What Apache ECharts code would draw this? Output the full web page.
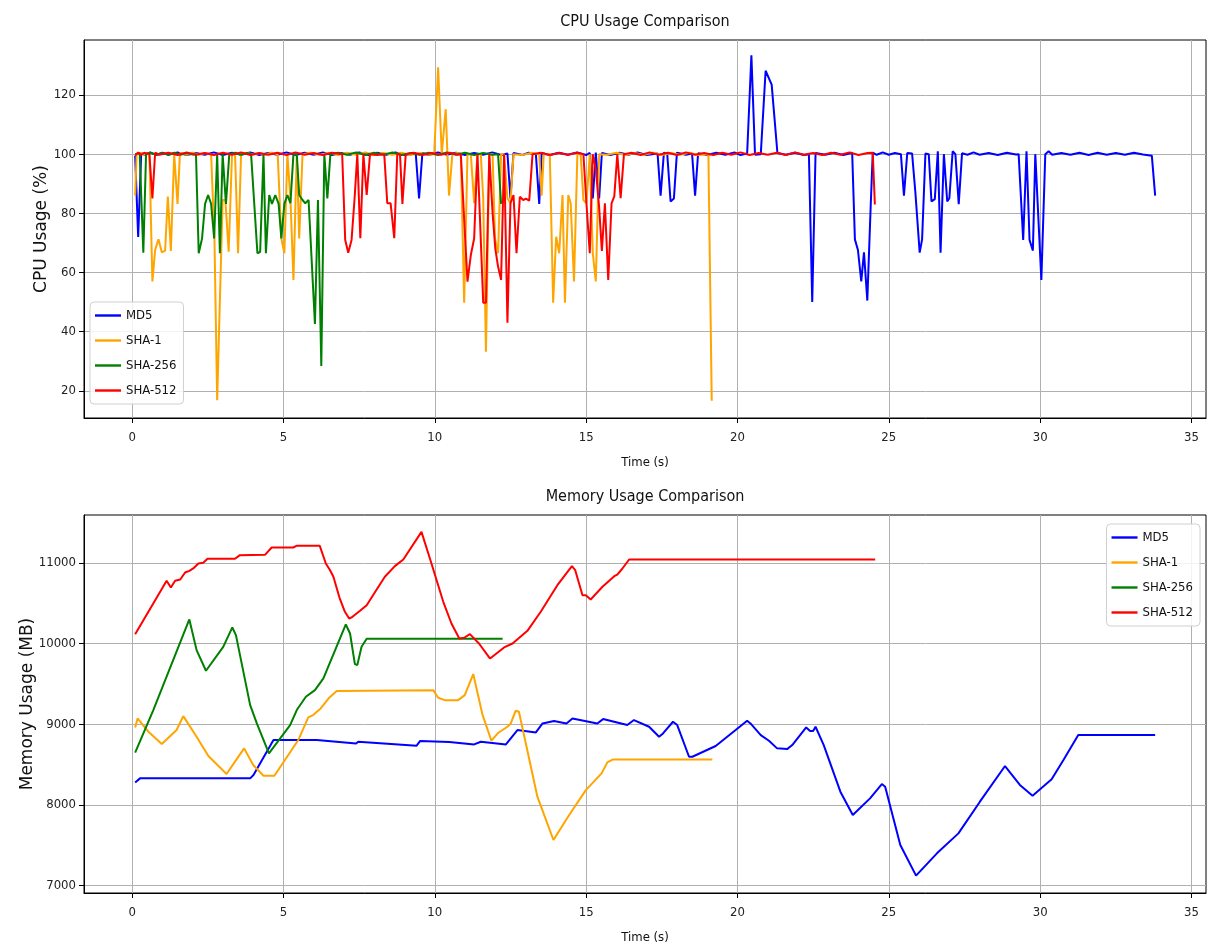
<!DOCTYPE html>
<html>
<head>
<meta charset="utf-8">
<script src="https://cdn.jsdelivr.net/npm/echarts@6/dist/echarts.min.js"></script>
<style>
html,body{margin:0;padding:0;background:#fff;}
#c{width:1208px;height:945px;}
</style>
</head>
<body>
<div id="c"></div>
<script>
const names = ['MD5','SHA-1','SHA-256','SHA-512'];
const colors = ['#0000ff','#ffa500','#008000','#ff0000'];
const xTicks = [0,5,10,15,20,25,30,35];
const cpuTicks = [20,40,60,80,100,120];
const memTicks = [7000,8000,9000,10000,11000];

const md5Cpu = [[0.1,99.5],[0.2,72],[0.3,100.4],[0.4,99.8],[0.6,100.6],[0.8,99.7],[1.0,100.5],[1.2,99.8],[1.5,100.6],[1.8,99.7],[2.1,100.4],[2.4,99.8],[2.7,100.6],[3.0,99.7],[3.3,100.5],[3.6,99.8],[3.9,100.6],[4.2,99.7],[4.5,100.4],[4.8,99.8],[5.1,100.6],[5.4,99.7],[5.7,100.5],[6.0,99.8],[6.3,100.6],[6.6,99.7],[6.9,100.4],[7.2,99.8],[7.5,100.6],[7.8,99.7],[8.1,100.5],[8.4,99.8],[8.7,100.6],[9.0,99.7],[9.37,100.3],[9.48,85],[9.59,100.4],[9.8,99.7],[10.1,100.6],[10.4,99.8],[10.7,100.5],[11.0,99.7],[11.3,100.4],[11.6,99.8],[11.9,100.6],[12.2,99.7],[12.4,100.2],[12.5,85],[12.6,100.4],[12.9,99.7],[13.1,100.5],[13.34,100],[13.45,83.2],[13.53,100.4],[13.8,99.7],[14.1,100.5],[14.4,99.8],[14.7,100.6],[15.0,99.7],[15.12,100.4],[15.22,85],[15.32,100.5],[15.43,85],[15.52,100.4],[15.8,99.7],[16.1,100.5],[16.4,99.8],[16.7,100.6],[17.0,99.7],[17.36,100.2],[17.46,86],[17.57,100.5],[17.68,100],[17.79,84],[17.9,85],[18.0,100.5],[18.3,99.8],[18.5,100.2],[18.6,86],[18.7,100.3],[19.0,99.7],[19.3,100.5],[19.6,99.8],[19.9,100.6],[20.1,99.7],[20.32,100.2],[20.46,133.4],[20.58,99.8],[20.77,100],[20.93,128.2],[21.13,123.5],[21.32,100.4],[21.6,99.8],[21.9,100.5],[22.2,99.7],[22.36,100],[22.47,50],[22.58,100.4],[22.9,99.8],[23.2,100.5],[23.5,99.7],[23.79,100.5],[23.88,71.2],[23.98,67.6],[24.09,57],[24.18,66.8],[24.29,50.5],[24.4,82],[24.47,100.5],[24.6,99.8],[24.8,100.6],[25.0,99.8],[25.2,100.4],[25.4,100],[25.5,86],[25.61,100.4],[25.77,100.2],[25.88,86.8],[26.02,66.7],[26.1,71.2],[26.21,100.2],[26.32,100],[26.41,84],[26.52,84.8],[26.62,101],[26.71,66.7],[26.82,100],[26.93,84],[27.0,85.1],[27.11,101],[27.2,100],[27.31,83.1],[27.42,100.3],[27.6,99.8],[27.8,100.6],[28.0,99.8],[28.3,100.4],[28.6,99.7],[28.9,100.5],[29.2,99.9],[29.29,100],[29.44,71],[29.55,101],[29.65,71],[29.76,67.4],[29.84,100],[30.04,57.5],[30.17,100],[30.28,101],[30.4,99.8],[30.7,100.4],[31.0,99.8],[31.3,100.5],[31.6,99.7],[31.9,100.5],[32.2,99.8],[32.5,100.4],[32.8,99.8],[33.1,100.5],[33.4,99.9],[33.69,99.5],[33.8,86]];

const sha1Cpu = [[0.1,86],[0.15,100],[0.3,100.4],[0.45,99.8],[0.57,100.3],[0.67,57],[0.76,67.6],[0.87,71.2],[0.98,66.8],[1.09,67.4],[1.18,85.7],[1.28,67.3],[1.39,100],[1.5,83.2],[1.58,100.4],[1.8,99.8],[2.0,100.5],[2.2,99.8],[2.4,100.4],[2.61,100],[2.72,71.5],[2.81,16.8],[2.99,84.5],[3.08,84.5],[3.19,67],[3.3,100],[3.4,100.3],[3.5,66.5],[3.6,100],[3.8,100.5],[4.0,99.8],[4.2,100.4],[4.4,99.8],[4.6,100.5],[4.81,100],[4.93,71.5],[5.03,66.5],[5.13,100],[5.23,85],[5.33,57.5],[5.44,100],[5.52,71.5],[5.63,100],[5.9,100.5],[6.2,99.8],[6.5,100.4],[6.8,99.7],[7.1,100.5],[7.4,99.8],[7.7,100.6],[8.0,99.7],[8.3,100.4],[8.6,99.8],[8.9,100.5],[9.2,99.7],[9.5,100.4],[9.8,99.8],[9.98,100],[10.11,129.4],[10.23,100],[10.36,115.2],[10.47,86],[10.58,100],[10.75,100.4],[10.86,100],[10.97,49.8],[11.08,100],[11.19,100],[11.3,83.4],[11.41,100],[11.52,100],[11.6,85],[11.69,33.2],[11.8,100],[11.91,100],[11.99,71.5],[12.09,66.5],[12.19,100],[12.29,100],[12.4,85],[12.5,83.4],[12.6,100],[12.9,99.7],[13.2,100.5],[13.45,100],[13.53,86],[13.6,100],[13.8,100],[13.91,49.8],[14.01,72.1],[14.11,66.5],[14.22,86.2],[14.3,49.8],[14.41,86.2],[14.49,83.4],[14.6,57],[14.71,100],[14.82,100],[14.91,84.5],[15.01,83.4],[15.12,100],[15.22,66.5],[15.32,57],[15.43,100],[15.7,99.8],[16.0,100.5],[16.3,99.7],[16.6,100.4],[16.9,99.8],[17.2,100.5],[17.5,99.7],[17.8,100.4],[18.1,99.8],[18.4,100.5],[18.7,99.7],[19.04,100],[19.15,16.6]];

const sha256Cpu = [[0.1,100],[0.25,100.4],[0.37,66.7],[0.46,100],[0.6,100.5],[0.8,99.8],[1.0,100.4],[1.2,99.8],[1.4,100.5],[1.6,99.8],[1.8,100.4],[2.0,99.9],[2.11,100],[2.2,66.5],[2.31,71.5],[2.41,83.2],[2.51,86.2],[2.61,83.2],[2.71,71.5],[2.81,100],[2.9,66.5],[2.99,100],[3.1,83.2],[3.21,100],[3.4,100.5],[3.6,99.8],[3.8,100.4],[3.93,100],[4.14,66.5],[4.23,67],[4.34,100],[4.42,66.5],[4.53,86.2],[4.62,83.2],[4.73,86.2],[4.84,83.2],[4.93,71.5],[5.03,83.2],[5.13,86.2],[5.23,83.4],[5.33,100],[5.44,100],[5.52,86.2],[5.63,84.5],[5.72,83.4],[5.83,84.5],[6.04,42.6],[6.14,84.5],[6.25,28.4],[6.35,100],[6.45,85],[6.55,100],[6.8,100.5],[7.1,99.8],[7.4,100.6],[7.7,99.7],[8.0,100.5],[8.3,99.8],[8.6,100.6],[8.9,99.7],[9.2,100.4],[9.5,99.8],[9.8,100.5],[10.1,99.7],[10.4,100.6],[10.7,99.8],[11.0,100.5],[11.3,99.7],[11.6,100.4],[11.9,99.8],[12.09,100],[12.19,83.2]];

const sha512Cpu = [[0.1,99.5],[0.2,100.6],[0.3,99.7],[0.4,100.5],[0.57,100],[0.67,85],[0.76,100.5],[0.9,99.8],[1.2,100.5],[1.5,99.7],[1.8,100.6],[2.1,99.8],[2.4,100.4],[2.7,99.7],[3.0,100.5],[3.3,99.8],[3.6,100.6],[3.9,99.7],[4.2,100.4],[4.5,99.8],[4.8,100.5],[5.1,99.7],[5.4,100.6],[5.7,99.8],[6.0,100.4],[6.3,99.7],[6.6,100.5],[6.94,100],[7.04,71],[7.14,66.7],[7.25,71],[7.35,85],[7.44,100],[7.54,71.6],[7.64,100],[7.75,86.2],[7.86,100],[8.1,99.7],[8.33,100],[8.43,83.4],[8.54,83.4],[8.66,71.6],[8.76,100],[8.85,100],[8.93,83.2],[9.04,100],[9.3,100.5],[9.6,99.7],[9.9,100.4],[10.2,99.8],[10.5,100.5],[10.75,99.8],[10.86,100],[10.97,78],[11.08,56.9],[11.19,65.9],[11.3,71.5],[11.41,100],[11.6,49.8],[11.69,49.8],[11.8,100],[11.91,80],[12.0,68],[12.09,62],[12.19,57.5],[12.29,100],[12.4,43],[12.5,83.4],[12.6,86.2],[12.7,66.5],[12.81,85.6],[12.92,84.5],[13.01,85],[13.12,84.3],[13.23,100],[13.5,100.5],[13.8,99.7],[14.1,100.4],[14.4,99.8],[14.7,100.5],[14.91,100],[15.01,83.4],[15.12,66.5],[15.22,100],[15.32,95],[15.43,82],[15.52,67.3],[15.62,83.4],[15.73,57.5],[15.84,83.4],[15.93,85.7],[16.03,100],[16.14,85.1],[16.25,100],[16.5,100.5],[16.8,99.7],[17.1,100.6],[17.4,99.8],[17.7,100.5],[18.0,99.7],[18.3,100.6],[18.6,99.8],[18.9,100.4],[19.2,99.7],[19.5,100.5],[19.8,99.8],[20.1,100.6],[20.4,99.7],[20.7,100.4],[21.0,99.8],[21.3,100.5],[21.6,99.7],[21.9,100.6],[22.2,99.8],[22.5,100.4],[22.8,99.7],[23.1,100.5],[23.4,99.8],[23.7,100.6],[24.0,99.7],[24.3,100.4],[24.47,100.5],[24.54,83]];

const md5Mem = [[0.1,8278],[0.26,8328],[3.9,8328],[4.01,8369],[4.67,8803],[6.1,8803],[7.4,8761],[7.47,8782],[9.4,8733],[9.51,8790],[10.48,8780],[11.3,8749],[11.52,8782],[12.35,8749],[12.73,8927],[13.34,8898],[13.56,9009],[13.94,9038],[14.35,9009],[14.55,9071],[15.37,9009],[15.56,9063],[16.36,8989],[16.58,9051],[17.08,8968],[17.41,8844],[17.54,8885],[17.87,9030],[18.01,8989],[18.4,8596],[18.51,8596],[19.28,8729],[19.94,8927],[20.32,9042],[20.43,9009],[20.77,8865],[21.04,8795],[21.31,8700],[21.64,8691],[21.81,8741],[22.27,8960],[22.4,8915],[22.5,8915],[22.58,8968],[22.85,8741],[23.4,8163],[23.81,7874],[24.38,8080],[24.77,8258],[24.88,8225],[25.38,7502],[25.9,7122],[26.59,7399],[27.3,7646],[28.01,8039],[28.84,8481],[29.33,8246],[29.75,8113],[30.38,8316],[30.77,8555],[31.26,8865],[33.8,8865]];

const sha1Mem = [[0.1,8960],[0.18,9071],[0.54,8906],[0.98,8753],[1.47,8927],[1.69,9100],[2.13,8844],[2.52,8605],[3.12,8382],[3.45,8564],[3.7,8700],[4.0,8493],[4.34,8361],[4.7,8361],[5.49,8803],[5.82,9084],[5.98,9113],[6.23,9195],[6.52,9331],[6.76,9410],[9.95,9422],[10.11,9327],[10.33,9298],[10.77,9298],[10.99,9360],[11.27,9621],[11.57,9125],[11.87,8795],[12.1,8894],[12.4,8968],[12.51,9009],[12.67,9166],[12.78,9154],[13.39,8101],[13.92,7564],[14.44,7874],[14.99,8183],[15.51,8390],[15.7,8526],[15.89,8563],[19.17,8563]];

const sha256Mem = [[0.1,8646],[0.7,9175],[1.89,10298],[2.13,9918],[2.44,9662],[3.01,9959],[3.31,10199],[3.43,10104],[3.9,9236],[4.12,9009],[4.52,8638],[5.22,8989],[5.44,9175],[5.74,9340],[6.04,9422],[6.32,9567],[7.06,10236],[7.2,10124],[7.36,9744],[7.44,9732],[7.58,9959],[7.75,10058],[12.24,10058]];

const sha512Mem = [[0.1,10116],[1.14,10777],[1.28,10694],[1.42,10777],[1.59,10793],[1.75,10880],[1.89,10901],[2.02,10930],[2.19,10992],[2.35,11000],[2.49,11050],[3.4,11050],[3.56,11095],[4.39,11099],[4.61,11190],[5.32,11190],[5.43,11211],[6.2,11211],[6.4,10992],[6.54,10909],[6.65,10827],[6.85,10570],[7.03,10393],[7.17,10310],[7.28,10331],[7.53,10405],[7.75,10475],[8.08,10670],[8.35,10827],[8.68,10959],[8.96,11041],[9.56,11384],[9.89,10992],[10.28,10517],[10.55,10248],[10.81,10062],[10.97,10071],[11.16,10116],[11.46,10000],[11.82,9815],[11.9,9835],[12.29,9951],[12.57,10000],[13.06,10157],[13.5,10393],[14.05,10723],[14.53,10959],[14.64,10909],[14.88,10599],[14.99,10599],[15.15,10546],[15.54,10703],[15.93,10835],[16.03,10855],[16.2,10930],[16.42,11041],[24.55,11041]];

const cpuData = [md5Cpu, sha1Cpu, sha256Cpu, sha512Cpu];
const memData = [md5Mem, sha1Mem, sha256Mem, sha512Mem];

const narrow = "'DejaVu Sans Condensed','DejaVu Sans',sans-serif";
const normal = "'DejaVu Sans',sans-serif";

function xAxis(gridIndex){
  return {
    type:'value', gridIndex, min:-1.59, max:35.48,
    name:'Time (s)', nameLocation:'middle', nameGap:38,
    nameTextStyle:{fontFamily:narrow,fontSize:13,color:'#111'},
    axisLine:{show:true,onZero:false,lineStyle:{color:'#000',width:1}},
    axisTick:{show:true,length:5,lineStyle:{color:'#000'},customValues:xTicks},
    axisLabel:{fontFamily:narrow,fontSize:13,color:'#222',margin:13,customValues:xTicks},
    splitLine:{show:true,lineStyle:{color:'#b0b0b0',width:1}}
  };
}
function yAxis(gridIndex,min,max,ticks,name,gap){
  return {
    type:'value', gridIndex, min, max,
    name, nameLocation:'middle', nameGap:gap, nameMoveOverlap:false,
    nameTextStyle:{fontFamily:normal,fontSize:17,color:'#111'},
    axisLine:{show:true,onZero:false,lineStyle:{color:'#000',width:1}},
    axisTick:{show:true,length:5,lineStyle:{color:'#000'},customValues:ticks},
    axisLabel:{fontFamily:narrow,fontSize:13,color:'#222',margin:8,customValues:ticks,formatter:(v)=>String(v)},
    splitLine:{show:true,lineStyle:{color:'#b0b0b0',width:1}}
  };
}
const legendBase = {
  orient:'vertical', data:names, itemWidth:26, itemHeight:14, itemGap:12,
  icon:'path://M0,0 L26,0 L26,2.4 L0,2.4 Z', symbolKeepAspect:true,
  backgroundColor:'rgba(255,255,255,0.85)', borderColor:'#d0d0d0', borderWidth:1, borderRadius:4,
  padding:[7,7,7,5], textStyle:{fontFamily:narrow,fontSize:13,color:'#111'}, selectedMode:false
};
const series = [];
names.forEach((n,i)=>{
  series.push({name:n,type:'line',xAxisIndex:0,yAxisIndex:0,data:cpuData[i],showSymbol:false,symbol:'none',
    lineStyle:{color:colors[i],width:2},itemStyle:{color:colors[i]},z:2+i});
});
names.forEach((n,i)=>{
  series.push({name:n,type:'line',xAxisIndex:1,yAxisIndex:1,data:memData[i],showSymbol:false,symbol:'none',
    lineStyle:{color:colors[i],width:2},itemStyle:{color:colors[i]},z:2+i});
});
const chart = echarts.init(document.getElementById('c'),null,{renderer:'canvas'});
chart.setOption({
  animation:false,
  backgroundColor:'#fff',
  title:[
    {text:'CPU Usage Comparison',left:645,top:14,textAlign:'center',padding:0,textStyle:{fontFamily:narrow,fontSize:16,fontWeight:'normal',color:'#111'}},
    {text:'Memory Usage Comparison',left:645,top:489,textAlign:'center',padding:0,textStyle:{fontFamily:narrow,fontSize:16,fontWeight:'normal',color:'#111'}}
  ],
  grid:[
    {left:84,top:40,width:1122,height:378,show:true,borderColor:'#000',borderWidth:1,backgroundColor:'transparent'},
    {left:84,top:515,width:1122,height:378,show:true,borderColor:'#000',borderWidth:1,backgroundColor:'transparent'}
  ],
  xAxis:[xAxis(0),xAxis(1)],
  yAxis:[yAxis(0,10.8,138.6,cpuTicks,'CPU Usage (%)',34), yAxis(1,6907,11593,memTicks,'Memory Usage (MB)',48)],
  legend:[
    Object.assign({},legendBase,{left:90,top:302}),
    Object.assign({},legendBase,{right:8,top:524})
  ],
  series
});
</script>
</body>
</html>
